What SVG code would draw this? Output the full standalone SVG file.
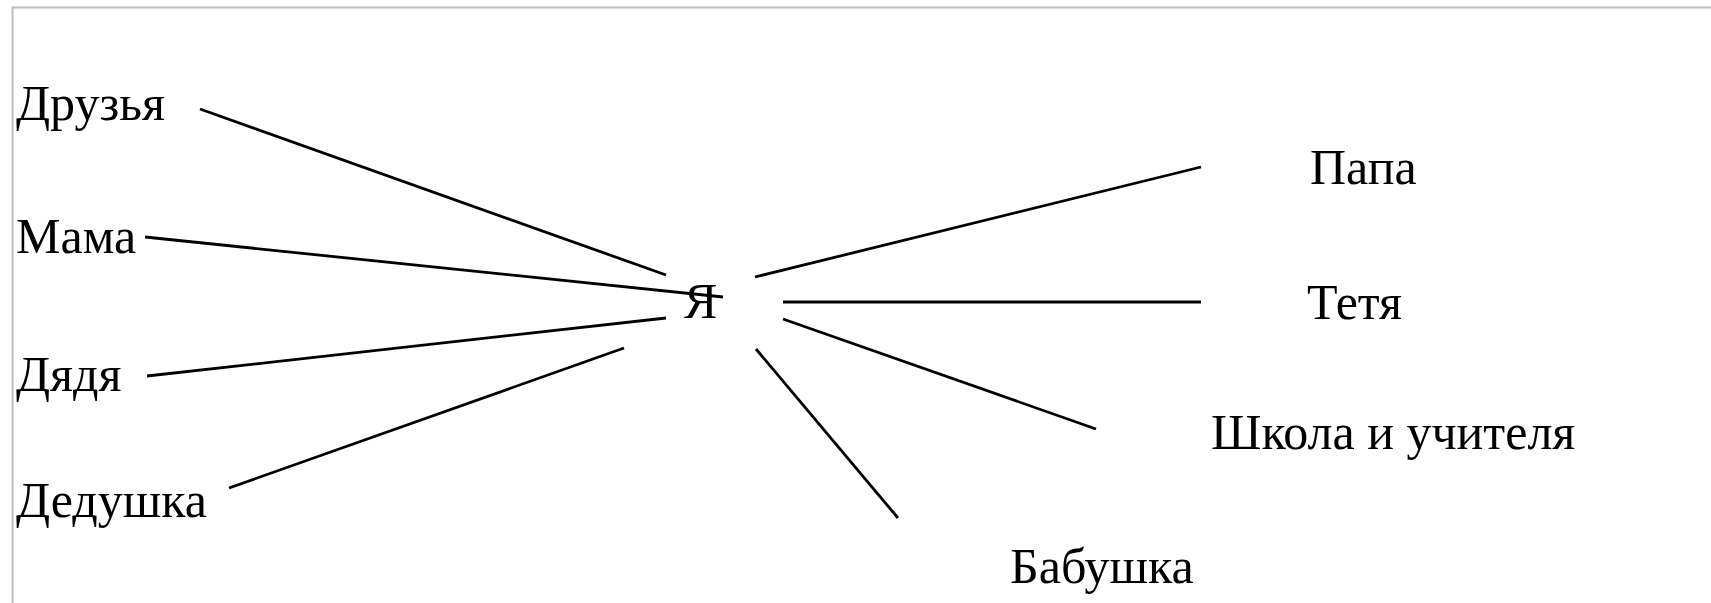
<svg xmlns="http://www.w3.org/2000/svg" width="1711" height="603" viewBox="0 0 1711 603">
<style>
.lbl{font-family:"Liberation Serif","Times New Roman",serif;font-size:50px;fill:#000}
.con line{stroke:#000;stroke-width:2.8;stroke-linecap:butt}
</style>
<rect x="0" y="0" width="1711" height="603" fill="#fff"/>
<path d="M12.5,603 V7.5 H1711" fill="none" stroke="#bdbdbd" stroke-width="2"/>
<g id="connectors" class="con">
<line x1="200" y1="109" x2="666" y2="275"/>
<line x1="145" y1="237" x2="723" y2="297"/>
<line x1="147" y1="376" x2="666" y2="318"/>
<line x1="229" y1="488" x2="624" y2="348"/>
<line x1="755" y1="277" x2="1201" y2="167"/>
<line x1="783" y1="302" x2="1201" y2="302"/>
<line x1="783" y1="319" x2="1096" y2="429"/>
<line x1="756" y1="349" x2="898" y2="518"/>
</g>
<g id="node-ya"><text class="lbl" x="684" y="318">Я</text></g>
<g id="node-druzya"><text class="lbl" x="16" y="120">Друзья</text></g>
<g id="node-mama"><text class="lbl" x="16" y="253">Мама</text></g>
<g id="node-dyadya"><text class="lbl" x="16" y="391">Дядя</text></g>
<g id="node-dedushka"><text class="lbl" x="16" y="517">Дедушка</text></g>
<g id="node-papa"><text class="lbl" x="1310" y="184">Папа</text></g>
<g id="node-tetya"><text class="lbl" x="1307" y="319">Тетя</text></g>
<g id="node-shkola"><text class="lbl" x="1211" y="449">Школа и учителя</text></g>
<g id="node-babushka"><text class="lbl" x="1010" y="583">Бабушка</text></g>
</svg>
